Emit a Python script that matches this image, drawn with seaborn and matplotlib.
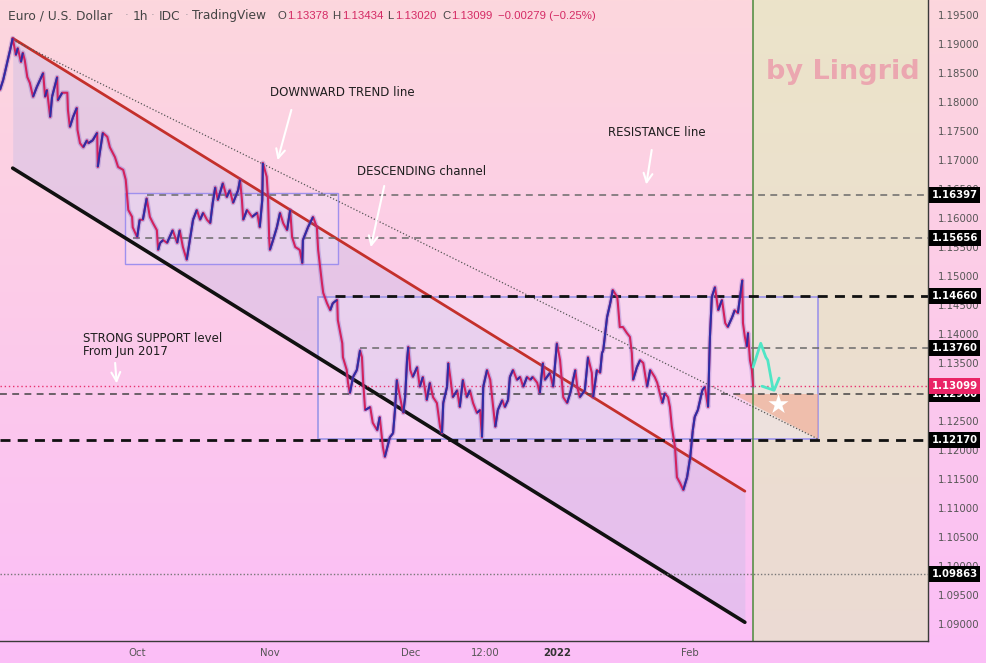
import numpy as np
import pandas as pd
import matplotlib
matplotlib.use("Agg")
import matplotlib.pyplot as plt
import seaborn as sns
from matplotlib.collections import LineCollection
from matplotlib.patches import Rectangle, Polygon

sns.set_style("white")
plt.rcParams['font.family'] = ['DejaVu Sans']

# ---------------- data ----------------
# x = trading-day index (0 = first visible bar), y = EUR/USD price (1h chart, traced)
session = [0.0, 0.5, 0.8, 1.3, 1.6, 2.0, 2.5, 2.8, 3.3, 3.6,
           3.9, 4.3, 4.7, 5.2, 5.8, 6.3, 6.8, 7.1, 7.4, 7.9,
           8.2, 9.0, 9.1, 9.8, 10.6, 10.7, 11.0, 11.5, 12.1, 12.2,
           12.6, 13.1, 13.7, 13.9, 14.6, 15.3, 15.4, 15.7, 16.2, 16.9,
           17.3, 18.1, 18.6, 19.4, 19.8, 20.2, 20.8, 20.9, 21.6, 22.0,
           22.5, 23.1, 23.6, 24.1, 24.7, 24.9, 25.2, 25.7, 26.3, 27.2,
           27.9, 28.3, 28.8, 29.4, 29.9, 30.4, 31.0, 31.5, 32.0, 32.6,
           33.1, 33.5, 33.9, 34.3, 35.1, 35.7, 36.2, 36.7, 37.5, 37.8,
           38.1, 38.3, 38.9, 39.7, 40.5, 40.9, 41.3, 41.4, 41.7, 42.0,
           42.2, 42.4, 42.5, 43.0, 43.6, 44.1, 44.6, 45.2, 45.7, 46.0,
           46.5, 47.2, 47.6, 47.7, 48.5, 49.3, 49.9, 50.1, 50.4, 50.7,
           50.9, 51.5, 52.0, 52.4, 53.1, 53.2, 53.9, 54.0, 54.6, 54.8,
           55.1, 55.6, 56.2, 56.7, 57.0, 57.2, 57.5, 58.3, 58.7, 59.4,
           59.8, 60.3, 60.6, 61.4, 61.9, 62.2, 62.5, 63.0, 63.5, 63.8,
           64.1, 64.3, 64.6, 65.0, 65.7, 66.1, 66.6, 67.2, 67.7, 68.2,
           68.8, 69.3, 69.6, 69.8, 70.4, 70.6, 70.9, 71.3, 72.0, 72.4,
           72.9, 73.5, 74.0, 74.5, 75.1, 75.6, 75.9, 76.1, 76.7, 77.2,
           77.5, 78.0, 78.4, 79.1, 79.5, 80.0, 80.3, 80.8, 81.4, 81.9,
           82.4, 83.0, 83.5, 83.9, 84.6, 85.0, 85.5, 85.8, 86.6, 87.1,
           87.7, 88.2, 88.7, 89.3, 89.8, 90.6, 90.9, 91.3, 92.1, 92.6,
           93.2, 93.4, 94.0, 94.5, 94.8, 95.0, 95.6, 96.1, 96.5, 97.2,
           97.3, 97.6, 98.1, 98.7, 99.2, 99.5, 99.7, 100.3, 100.8, 101.3,
           101.9, 102.4, 103.1, 103.5, 103.9, 104.3, 104.7, 105.2, 105.5, 105.8,
           106.3, 106.6, 107.1, 107.6, 108.2, 108.7, 109.1, 109.4, 109.9, 110.6,
           111.0, 111.5, 111.8, 112.1, 112.6, 113.1, 113.7, 114.2, 114.6, 115.3,
           115.7, 116.2, 116.9, 117.0, 117.3, 117.6, 117.8, 118.1, 118.4, 118.6]
price = [1.1821, 1.1838, 1.1852, 1.1876, 1.1890, 1.1910, 1.1881, 1.1893, 1.1869, 1.1885,
         1.1872, 1.1843, 1.1833, 1.1809, 1.1826, 1.1838, 1.1850, 1.1809, 1.1821, 1.1774,
         1.1809, 1.1843, 1.1803, 1.1816, 1.1816, 1.1786, 1.1757, 1.1774, 1.1790, 1.1752,
         1.1729, 1.1722, 1.1734, 1.1729, 1.1734, 1.1747, 1.1688, 1.1712, 1.1747, 1.1740,
         1.1722, 1.1705, 1.1688, 1.1683, 1.1666, 1.1614, 1.1602, 1.1584, 1.1567, 1.1597,
         1.1597, 1.1634, 1.1602, 1.1591, 1.1579, 1.1545, 1.1557, 1.1562, 1.1557, 1.1579,
         1.1557, 1.1579, 1.1550, 1.1528, 1.1562, 1.1597, 1.1614, 1.1597, 1.1609, 1.1597,
         1.1591, 1.1626, 1.1653, 1.1631, 1.1660, 1.1636, 1.1648, 1.1626, 1.1648, 1.1666,
         1.1631, 1.1597, 1.1614, 1.1602, 1.1609, 1.1584, 1.1631, 1.1695, 1.1683, 1.1671,
         1.1636, 1.1562, 1.1545, 1.1562, 1.1584, 1.1609, 1.1591, 1.1579, 1.1614, 1.1567,
         1.1550, 1.1545, 1.1522, 1.1562, 1.1584, 1.1602, 1.1584, 1.1545, 1.1516, 1.1488,
         1.1471, 1.1453, 1.1441, 1.1453, 1.1459, 1.1424, 1.1384, 1.1360, 1.1338, 1.1316,
         1.1298, 1.1326, 1.1338, 1.1372, 1.1360, 1.1316, 1.1269, 1.1274, 1.1247, 1.1234,
         1.1257, 1.1205, 1.1188, 1.1222, 1.1229, 1.1269, 1.1321, 1.1291, 1.1264, 1.1291,
         1.1355, 1.1378, 1.1338, 1.1326, 1.1343, 1.1309, 1.1326, 1.1286, 1.1316, 1.1291,
         1.1281, 1.1240, 1.1229, 1.1281, 1.1309, 1.1350, 1.1326, 1.1291, 1.1303, 1.1274,
         1.1321, 1.1291, 1.1303, 1.1281, 1.1264, 1.1269, 1.1222, 1.1309, 1.1338, 1.1321,
         1.1291, 1.1240, 1.1269, 1.1286, 1.1274, 1.1286, 1.1326, 1.1338, 1.1321, 1.1326,
         1.1309, 1.1326, 1.1321, 1.1326, 1.1316, 1.1298, 1.1350, 1.1321, 1.1333, 1.1309,
         1.1384, 1.1355, 1.1291, 1.1281, 1.1298, 1.1338, 1.1309, 1.1291, 1.1303, 1.1360,
         1.1333, 1.1291, 1.1338, 1.1333, 1.1367, 1.1372, 1.1429, 1.1453, 1.1476, 1.1464,
         1.1453, 1.1412, 1.1412, 1.1402, 1.1395, 1.1367, 1.1321, 1.1343, 1.1355, 1.1350,
         1.1309, 1.1338, 1.1326, 1.1316, 1.1298, 1.1281, 1.1298, 1.1291, 1.1274, 1.1240,
         1.1205, 1.1153, 1.1143, 1.1131, 1.1153, 1.1188, 1.1234, 1.1257, 1.1269, 1.1303,
         1.1309, 1.1274, 1.1395, 1.1464, 1.1481, 1.1441, 1.1459, 1.1419, 1.1412, 1.1429,
         1.1441, 1.1436, 1.1493, 1.1419, 1.1395, 1.1378, 1.1402, 1.1355, 1.1338, 1.1310]

x_tick_pos = [21.6, 42.5, 64.6, 76.4, 87.7, 108.7]
x_tick_lab = ["Oct", "Nov", "Dec", "12:00", "2022", "Feb"]
y_ticks = [1.090, 1.095, 1.100, 1.105, 1.110, 1.115, 1.120, 1.125, 1.130, 1.135,
           1.140, 1.145, 1.150, 1.155, 1.160, 1.165, 1.170, 1.175, 1.180, 1.185,
           1.190, 1.195]

# horizontal levels: value, start session, style
levels = [1.16397, 1.15656, 1.14660, 1.13760, 1.12960, 1.12170, 1.09863]
level_start = [23.1, 20.9, 52.8, 56.7, 0.0, 0.0, 0.0]
level_kind = ["gray", "gray", "bold", "gray", "dark", "bold", "dot"]
last_close = 1.13099

# header OHLC
ohlc_open, ohlc_high, ohlc_low, ohlc_close = 1.13378, 1.13434, 1.13020, 1.13099
chg, chg_pct = -0.00279, -0.25

# trend channel (session, price)
trend_x = [2.0, 117.3]
trend_red = [1.1910, 1.1129]
trend_black = [1.1686, 1.0903]
dotted_x = [2.0, 128.8]
dotted_y = [1.1907, 1.1219]

# ranges (session0, session1, price0, price1)
box1 = (19.7, 53.2, 1.1521, 1.1643)
box2 = (50.1, 128.8, 1.1219, 1.1464)
tri_x = [115.4, 128.8, 128.8]
tri_y = [1.1296, 1.1296, 1.1219]
now_session = 118.6

# projected path
proj_x = [118.6, 119.8, 120.6, 120.9, 121.7]
proj_y = [1.1343, 1.1384, 1.1360, 1.1355, 1.1307]
head_x = [120.0, 121.9, 122.7]
head_y = [1.1310, 1.1303, 1.1324]
star_x, star_y = 122.5, 1.1279

XMAX = 146.14
YMIN, YMAX = 1.08707, 1.19759

# ---------------- figure ----------------
W, H = 986, 663
fig = plt.figure(figsize=(W / 100, H / 100), dpi=100)

# background gradient
bg = fig.add_axes([0, 0, 1, 1], zorder=-10)
top = np.array([253, 215, 221]) / 255
bot = np.array([251, 190, 247]) / 255
t = np.linspace(0, 1, 256)[:, None]
grad = (top[None, :] * (1 - t) + bot[None, :] * t)[:, None, :]
bg.imshow(grad, aspect='auto', extent=[0, 1, 0, 1])
bg.axis('off')

ax = fig.add_axes([0, 22 / H, 928 / W, 641 / H])
ax.patch.set_alpha(0)
ax.set_xlim(0, XMAX)
ax.set_ylim(YMIN, YMAX)

# future zone
ax.axvspan(now_session, XMAX, color='#e2ecbe', alpha=0.62, zorder=0.5, lw=0)
ax.axvline(now_session, color='#4b8a3c', lw=1.1, zorder=2)

# channel fill
ax.fill_between(trend_x, trend_black, trend_red, color='#c4bce6', alpha=0.38, zorder=1, lw=0)

# boxes
ax.add_patch(Rectangle((box1[0], box1[2]), box1[1] - box1[0], box1[3] - box1[2],
                       fc=(0.93, 0.92, 1.0, 0.30), ec='#9f90ee', lw=1.0, zorder=1.5))
ax.add_patch(Rectangle((box2[0], box2[2]), box2[1] - box2[0], box2[3] - box2[2],
                       fc=(0.95, 0.93, 1.0, 0.30), ec='#a39ae8', lw=1.3, zorder=1.5))
ax.add_patch(Polygon(list(zip(tri_x, tri_y)), closed=True, fc='#f2a285', alpha=0.55,
                     ec='none', zorder=1.6))

sns.lineplot(x=trend_x, y=trend_red, color='#c4302b', lw=2.0, ax=ax, zorder=2.2)
sns.lineplot(x=trend_x, y=trend_black, color='#111111', lw=2.6, ax=ax, zorder=2.2)
ax.plot(dotted_x, dotted_y, color='#555555', lw=0.9, ls=(0, (1, 1.6)), zorder=2.2)

# horizontal levels
for lvl, x0, kind in zip(levels, level_start, level_kind):
    if kind == "gray":
        ax.plot([x0, XMAX], [lvl, lvl], color='#6a6a6a', lw=1.1, ls=(0, (4.5, 3.5)), zorder=2.4)
    elif kind == "dark":
        ax.plot([x0, XMAX], [lvl, lvl], color='#444444', lw=1.1, ls=(0, (4.5, 3.5)), zorder=2.4)
    elif kind == "bold":
        ax.plot([x0, XMAX], [lvl, lvl], color='#111111', lw=2.0, ls=(0, (3.6, 2.6)), zorder=2.4)
    else:
        ax.plot([x0, XMAX], [lvl, lvl], color='#777777', lw=1.0, ls=(0, (1, 1.5)), zorder=2.4)
ax.plot([0, XMAX], [last_close, last_close], color='#e8326e', lw=1.0, ls=(0, (1, 2)), zorder=2.4)

# price path
df = pd.DataFrame({"session": session, "price": price})
sns.lineplot(data=df, x="session", y="price", color='#6a50c0', lw=3.4, alpha=0.28,
             sort=False, estimator=None, ax=ax, zorder=2.9)
sns.lineplot(data=df, x="session", y="price", color='#d2225e', lw=1.5,
             sort=False, estimator=None, ax=ax, zorder=3)
pts = np.column_stack([df["session"], df["price"]])
segs = np.stack([pts[:-1], pts[1:]], axis=1)
up = np.diff(df["price"].to_numpy()) > 0
ax.add_collection(LineCollection(segs[up], colors='#2e2ea6', linewidths=1.5, zorder=3.1))

# projection
ax.plot(proj_x, proj_y, color='#50e6c6', lw=2.0, zorder=4, solid_joinstyle='round')
ax.plot(head_x, head_y, color='#50e6c6', lw=2.0, zorder=4, solid_joinstyle='round')
ax.scatter([star_x], [star_y], marker='*', s=230, color='white', zorder=4.5, linewidths=0)

# annotations
txt_kw = dict(color='#1e1e1e', fontsize=8.5, va='center', ha='left', zorder=5)
ax.text(42.5, 1.1816, "DOWNWARD TREND line", **txt_kw)
ax.text(56.2, 1.1681, "DESCENDING channel", **txt_kw)
ax.text(95.7, 1.1747, "RESISTANCE line", **txt_kw)
ax.text(13.1, 1.1381, "STRONG SUPPORT level\nFrom Jun 2017", linespacing=1.05, **txt_kw)
ax.text(120.6, 1.1852, "by Lingrid", color='#eba7b0', fontsize=19.5, fontweight='bold',
        va='center', ha='left', zorder=5)

arrow_kw = dict(arrowstyle='->', color='white', lw=1.5, mutation_scale=16)
for (hx, hy), (tx, ty) in [((43.6, 1.1695), (46.0, 1.1791)),
                           ((58.3, 1.1545), (60.6, 1.1660)),
                           ((101.7, 1.1653), (102.7, 1.1722)),
                           ((18.4, 1.1310), (18.1, 1.1355))]:
    ax.annotate('', xy=(hx, hy), xytext=(tx, ty), arrowprops=arrow_kw, zorder=5)

# axes styling
for s in ['top', 'left']:
    ax.spines[s].set_visible(False)
for s in ['right', 'bottom']:
    ax.spines[s].set_color('#3a3a3a')
    ax.spines[s].set_linewidth(1.0)
ax.yaxis.tick_right()
ax.set_yticks(y_ticks)
ax.set_yticklabels(["" if abs(v - 1.130) < 1e-9 else f"{v:.5f}" for v in y_ticks])
ax.tick_params(axis='y', length=0, pad=7, labelsize=7.3, labelcolor='#555555')
ax.set_xticks(x_tick_pos)
ax.set_xticklabels(x_tick_lab)
ax.tick_params(axis='x', length=0, pad=5, labelsize=7.3, labelcolor='#555555')
for lab in ax.get_xticklabels():
    if lab.get_text() == "2022":
        lab.set_color('#333333')
        lab.set_fontweight('bold')
ax.set_xlabel("")
ax.set_ylabel("")
ax.grid(False)

# price label boxes
for lvl in levels:
    ax.annotate(f"{lvl:.5f}", xy=(1, lvl), xycoords=('axes fraction', 'data'),
                xytext=(2.5, 0), textcoords='offset points', ha='left', va='center',
                color='white', fontsize=7.3, fontweight='bold', zorder=6, annotation_clip=False,
                bbox=dict(boxstyle='square,pad=0.28', fc='black', ec='none'))
ax.annotate(f"{last_close:.5f}", xy=(1, last_close), xycoords=('axes fraction', 'data'),
            xytext=(2.5, 0), textcoords='offset points', ha='left', va='center',
            color='white', fontsize=7.3, fontweight='bold', zorder=6, annotation_clip=False,
            bbox=dict(boxstyle='square,pad=0.28', fc='#ea2466', ec='none'))

# header
def fx(px):
    return px / W
def fy(py):
    return 1 - py / H

wfont = ['DejaVu Sans']
nfont = ['Liberation Sans', 'DejaVu Sans']
hdr_words = [("Euro / U.S. Dollar", 8, '#444444'), ("·", 125, '#b0a0a8'), ("1h", 133, '#444444'),
             ("·", 151, '#b0a0a8'), ("IDC", 159, '#444444'), ("·", 185, '#b0a0a8'),
             ("TradingView", 192, '#444444')]
for s, px, c in hdr_words:
    fig.text(fx(px), fy(16), s, fontsize=8.8, family=wfont, color=c, va='center', ha='left')
red = '#d42a64'
hdr_nums = [("O", 277, '#444444'), (f"{ohlc_open:.5f}", 287, red),
            ("H", 332, '#444444'), (f"{ohlc_high:.5f}", 342, red),
            ("L", 387, '#444444'), (f"{ohlc_low:.5f}", 395, red),
            ("C", 442, '#444444'), (f"{ohlc_close:.5f}", 451, red),
            (f"\u2212{abs(chg):.5f} (\u2212{abs(chg_pct):.2f}%)", 498, red)]
for s, px, c in hdr_nums:
    fig.text(fx(px), fy(16), s, fontsize=8.2, family=nfont, color=c, va='center', ha='left')

fig.savefig("out.png", dpi=100)
